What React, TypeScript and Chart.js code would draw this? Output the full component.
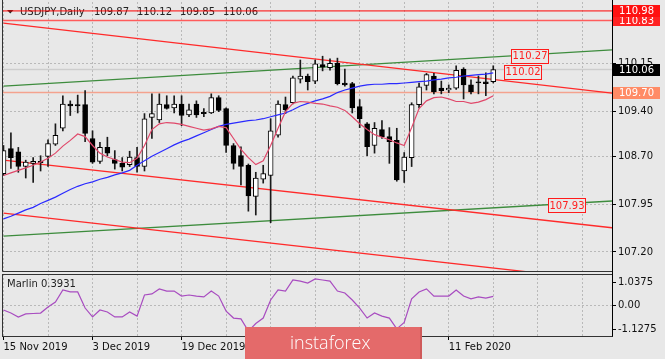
import React, { useEffect, useRef } from 'react';
import { Chart, registerables } from 'chart.js';

Chart.register(...registerables);

const BG = '#e8e8e8';
const FONT = '"DejaVu Sans", Verdana, sans-serif';
const GRID = '#b9b9b9';

// ---------- data ----------
const dates = [
  '15 Nov 2019', '18 Nov 2019', '19 Nov 2019', '20 Nov 2019', '21 Nov 2019', '22 Nov 2019', '25 Nov 2019', '26 Nov 2019', '27 Nov 2019', '28 Nov 2019', '29 Nov 2019',
  '2 Dec 2019', '3 Dec 2019', '4 Dec 2019', '5 Dec 2019', '6 Dec 2019', '9 Dec 2019', '10 Dec 2019', '11 Dec 2019', '12 Dec 2019', '13 Dec 2019', '16 Dec 2019', '17 Dec 2019', '18 Dec 2019', '19 Dec 2019', '20 Dec 2019', '23 Dec 2019', '24 Dec 2019', '26 Dec 2019', '27 Dec 2019', '30 Dec 2019', '31 Dec 2019',
  '2 Jan 2020', '3 Jan 2020', '6 Jan 2020', '7 Jan 2020', '8 Jan 2020', '9 Jan 2020', '10 Jan 2020', '13 Jan 2020', '14 Jan 2020', '15 Jan 2020', '16 Jan 2020', '17 Jan 2020', '20 Jan 2020', '21 Jan 2020', '22 Jan 2020', '23 Jan 2020', '24 Jan 2020', '27 Jan 2020', '28 Jan 2020', '29 Jan 2020', '30 Jan 2020', '31 Jan 2020',
  '3 Feb 2020', '4 Feb 2020', '5 Feb 2020', '6 Feb 2020', '7 Feb 2020', '10 Feb 2020', '11 Feb 2020', '12 Feb 2020', '13 Feb 2020', '14 Feb 2020', '17 Feb 2020', '18 Feb 2020', '19 Feb 2020',
];

const open = [
  108.43, 108.82, 108.77, 108.54, 108.59, 108.62, 108.70, 108.89, 109.14, 109.52, 109.51,
  109.51, 108.98, 108.62, 108.84, 108.65, 108.59, 108.57, 108.68, 108.54, 109.31, 109.27, 109.51, 109.46, 109.52, 109.35, 109.52, 109.39, 109.38, 109.62, 109.45, 108.87,
  108.71, 108.56, 108.07, 108.34, 108.40, 109.03, 109.51, 109.54, 109.91, 109.96, 109.88, 110.14, 110.09, 110.16, 109.85, 109.84, 109.48, 109.21, 108.87, 109.12, 109.01, 108.95,
  108.47, 108.68, 109.51, 109.81, 109.96, 109.77, 109.74, 109.77, 110.07, 109.82, 109.87, 109.87, 109.87,
];
const high = [
  108.87, 109.07, 108.84, 108.64, 108.68, 108.71, 108.96, 109.21, 109.65, 109.57, 109.66,
  109.73, 109.10, 108.92, 109.00, 108.79, 108.68, 108.78, 108.84, 109.37, 109.68, 109.68, 109.65, 109.65, 109.65, 109.52, 109.57, 109.45, 109.68, 109.65, 109.46, 108.90,
  108.85, 108.58, 108.45, 108.56, 109.29, 109.57, 109.63, 109.96, 110.21, 109.99, 110.21, 110.27, 110.23, 110.24, 110.07, 109.86, 109.59, 109.23, 109.23, 109.26, 109.15, 109.14,
  108.76, 109.54, 109.85, 110.00, 110.00, 109.88, 109.82, 110.12, 110.09, 109.90, 109.96, 110.01, 110.12,
];
const low = [
  108.40, 108.51, 108.45, 108.36, 108.29, 108.47, 108.54, 108.87, 109.10, 109.34, 109.38,
  108.93, 108.59, 108.59, 108.71, 108.50, 108.47, 108.54, 108.45, 108.47, 108.98, 109.23, 109.44, 109.38, 109.18, 109.32, 109.31, 109.32, 109.37, 109.40, 108.76, 108.50,
  108.25, 107.84, 107.78, 108.28, 107.66, 109.00, 109.37, 109.52, 109.85, 109.74, 109.84, 110.04, 110.05, 109.82, 109.80, 109.38, 109.15, 108.71, 108.75, 108.98, 108.59, 108.31,
  108.29, 108.54, 109.46, 109.74, 109.68, 109.68, 109.70, 109.75, 109.60, 109.68, 109.68, 109.65, 109.85,
];
const close = [
  108.79, 108.68, 108.54, 108.61, 108.62, 108.60, 108.90, 109.03, 109.52, 109.49, 109.49,
  109.06, 108.61, 108.84, 108.75, 108.59, 108.53, 108.69, 108.54, 109.29, 109.37, 109.52, 109.45, 109.52, 109.34, 109.43, 109.35, 109.37, 109.62, 109.42, 108.87, 108.59,
  108.54, 108.08, 108.36, 108.43, 109.10, 109.52, 109.43, 109.93, 109.96, 109.87, 110.15, 110.10, 110.16, 109.84, 109.82, 109.46, 109.29, 108.85, 109.14, 109.01, 108.93, 108.33,
  108.69, 109.51, 109.79, 109.98, 109.71, 109.73, 109.77, 110.05, 109.82, 109.71, 109.85, 109.84, 110.06,
];

// fast moving average (crimson)
const maFast = [
  108.40, 108.44, 108.48, 108.52, 108.56, 108.61, 108.67, 108.75, 108.86, 108.95, 109.05,
  109.01, 108.87, 108.75, 108.69, 108.65, 108.61, 108.60, 108.67, 108.87, 109.12, 109.21, 109.23, 109.22, 109.20, 109.17, 109.14, 109.11, 109.13, 109.17, 109.15, 108.98,
  108.81, 108.68, 108.57, 108.63, 108.87, 109.14, 109.40, 109.53, 109.56, 109.55, 109.53, 109.52, 109.49, 109.47, 109.42, 109.32, 109.21, 109.12, 109.04, 109.00, 108.96, 108.91,
  108.87, 109.15, 109.45, 109.57, 109.62, 109.63, 109.60, 109.56, 109.56, 109.53, 109.55, 109.59, 109.65,
];
// slow moving average (blue)
const maSlow = [
  107.72, 107.76, 107.81, 107.86, 107.90, 107.96, 108.01, 108.06, 108.12, 108.18, 108.23,
  108.27, 108.30, 108.34, 108.37, 108.41, 108.44, 108.48, 108.56, 108.63, 108.70, 108.76, 108.82, 108.88, 108.93, 108.97, 109.02, 109.07, 109.12, 109.17, 109.20, 109.22,
  109.24, 109.26, 109.27, 109.29, 109.32, 109.35, 109.38, 109.43, 109.49, 109.53, 109.57, 109.60, 109.64, 109.70, 109.74, 109.77, 109.80, 109.82, 109.83, 109.83, 109.84, 109.84,
  109.85, 109.86, 109.87, 109.88, 109.90, 109.91, 109.93, 109.94, 109.96, 109.97, 109.98, 109.99, 110.01,
];
// Marlin oscillator
const marlin = [
  -0.23, -0.37, -0.55, -0.41, -0.39, -0.37, -0.09, 0.14, 0.69, 0.60, 0.60,
  -0.14, -0.55, -0.23, -0.32, -0.55, -0.55, -0.32, -0.51, 0.46, 0.51, 0.74, 0.64, 0.64, 0.41, 0.46, 0.41, 0.37, 0.64, 0.41, -0.28, -0.60,
  -0.64, -1.20, -0.85, -0.60, 0.23, 0.69, 0.64, 1.15, 1.10, 1.01, 1.20, 1.15, 1.10, 0.64, 0.55, 0.23, -0.14, -0.60, -0.37, -0.51, -0.60, -1.10,
  -0.80, 0.28, 0.60, 0.74, 0.41, 0.41, 0.41, 0.69, 0.41, 0.28, 0.37, 0.32, 0.3931,
];

const priceTicks = [110.15, 109.40, 108.70, 107.95, 107.20];
const marlinTicks = [1.0375, 0, -1.1275];
const gridBars = [0, 6, 12, 18, 24, 30, 36, 42, 48, 54, 60, 66, 72, 78];

// horizontal levels
const levelValues = [110.83, 110.98, 109.70];
const levelLineColors = ['#ff5c5c', '#ff0000', '#f4a28e'];
const levelBoxColors = ['#ff2222', '#ff1111', '#ff8b66'];
const bidPrice = 110.06;

// trend lines: [startBar, startPrice, endBar, endPrice]
const trendStart = [0, 0, 0, 0, 0];
const trendStartPrice = [110.79, 109.80, 108.64, 107.81, 107.45];
const trendEnd = [82, 82, 82, 82, 82];
const trendEndPrice = [109.69, 110.37, 107.58, 106.74, 108.00];
const trendColors = ['#ff2a2a', '#3d8c3d', '#ff2a2a', '#ff2a2a', '#3d8c3d'];

// in-chart price labels
const noteTexts = ['110.27', '110.02', '107.93'];
const noteBars = [68.4, 67.4, 73.4];

// ---------- layout constants ----------
const X_MIN = -0.2;
const X_MAX = 82;
const Y_MIN = 106.902;
const Y_MAX = 111.12;
const M_MIN = -1.425;
const M_MAX = 1.425;

const seg = (x0: number, y0: number, x1: number, y1: number, color: string, width: number, order: number) => ({
  type: 'line' as const,
  data: [{ x: x0, y: y0 }, { x: x1, y: y1 }],
  borderColor: color,
  borderWidth: width,
  pointRadius: 0,
  tension: 0,
  order,
});

const mainDecor = {
  id: 'mainDecor',
  beforeDatasetsDraw(chart: any) {
    const ctx = chart.ctx;
    ctx.save();
    ctx.fillStyle = '#222';
    ctx.beginPath();
    ctx.moveTo(7, 10);
    ctx.lineTo(13.5, 10);
    ctx.lineTo(10.25, 13.5);
    ctx.closePath();
    ctx.fill();
    ctx.font = `10px ${FONT}`;
    ctx.textBaseline = 'alphabetic';
    ctx.textAlign = 'left';
    ctx.fillText('USDJPY,Daily', 20, 15);
    const last = dates.length - 1;
    const ohlc = [open[last], high[last], low[last], close[last]];
    ohlc.forEach((v, k) => ctx.fillText(v.toFixed(2), 94 + k * 43, 15));
    ctx.restore();
  },
  afterDraw(chart: any) {
    const ctx = chart.ctx;
    const { left, right, bottom } = chart.chartArea;
    const ys = chart.scales.y;
    const xs = chart.scales.x;
    ctx.save();
    // frame
    ctx.strokeStyle = '#333';
    ctx.lineWidth = 1;
    ctx.beginPath();
    ctx.moveTo(left + 0.5, 0);
    ctx.lineTo(left + 0.5, bottom + 0.5);
    ctx.lineTo(right, bottom + 0.5);
    ctx.stroke();
    ctx.strokeStyle = '#000';
    ctx.beginPath();
    ctx.moveTo(right + 0.5, 0);
    ctx.lineTo(right + 0.5, chart.height);
    ctx.stroke();

    ctx.font = `10px ${FONT}`;
    ctx.textBaseline = 'middle';
    ctx.textAlign = 'left';
    const box = (v: number, fill: string) => {
      const yc = ys.getPixelForValue(v);
      ctx.fillStyle = fill;
      ctx.fillRect(right + 1, Math.round(yc - 6), 47, 12);
      ctx.fillStyle = '#fff';
      ctx.fillText(v.toFixed(2), right + 7, yc + 0.5);
    };
    levelValues.forEach((v, k) => box(v, levelBoxColors[k]));
    box(bidPrice, '#000');

    // in-chart labels
    ctx.textAlign = 'center';
    noteTexts.forEach((t, k) => {
      const v = parseFloat(t);
      const x0 = Math.round(xs.getPixelForValue(noteBars[k])) + 0.5;
      const yc = ys.getPixelForValue(v);
      const y0 = Math.round(yc - 7) + 0.5;
      ctx.fillStyle = BG;
      ctx.fillRect(x0, y0, 37, 14);
      ctx.strokeStyle = '#ff1a1a';
      ctx.strokeRect(x0, y0, 37, 14);
      ctx.fillStyle = '#ff2020';
      ctx.fillText(t, x0 + 18.5, yc + 0.5);
    });
    ctx.restore();
  },
};

const subDecor = {
  id: 'subDecor',
  afterDraw(chart: any) {
    const ctx = chart.ctx;
    const { left, right, top, bottom } = chart.chartArea;
    ctx.save();
    ctx.strokeStyle = '#333';
    ctx.lineWidth = 1;
    ctx.strokeRect(left + 0.5, top + 0.5, right - left, bottom - top);
    ctx.strokeStyle = '#000';
    ctx.beginPath();
    ctx.moveTo(right + 0.5, 0);
    ctx.lineTo(right + 0.5, bottom + 0.5);
    ctx.stroke();

    ctx.font = `10px ${FONT}`;
    ctx.fillStyle = '#222';
    ctx.textBaseline = 'middle';
    ctx.textAlign = 'left';
    ctx.fillText('Marlin ' + marlin[marlin.length - 1].toFixed(4), 7, 12.5);

    // logo
    ctx.fillStyle = '#e46a6a';
    ctx.fillRect(245, 55, 177, 32);
    ctx.fillStyle = '#cf5a5a';
    ctx.fillRect(420, 55, 2, 32);
    ctx.fillStyle = '#ffffff';
    ctx.font = `300 18px "Open Sans", "DejaVu Sans", sans-serif`;
    ctx.textBaseline = 'alphabetic';
    ctx.fillText('instaforex', 290, 77);
    ctx.restore();
  },
};

function App() {
  const mainRef = useRef<HTMLCanvasElement>(null);
  const subRef = useRef<HTMLCanvasElement>(null);

  useEffect(() => {
    const bodyColors = dates.map((_, i) => (close[i] > open[i] ? '#ffffff' : '#000000'));
    const gridAfterBuild = (s: any) => {
      s.ticks = gridBars.map((v) => ({ value: v }));
    };

    const main = new Chart(mainRef.current as HTMLCanvasElement, {
      type: 'bar',
      data: {
        datasets: [
          ...levelValues.map((v, k) => seg(X_MIN, v, X_MAX, v, levelLineColors[k], k === 1 ? 1 : 1.5, 30)),
          seg(X_MIN, bidPrice, X_MAX, bidPrice, '#cdcdcd', 1.5, 31),
          ...trendStart.map((s, k) => seg(s, trendStartPrice[k], trendEnd[k], trendEndPrice[k], trendColors[k], 1.3, 20)),
          {
            type: 'bar' as const,
            data: dates.map((_, i) => ({ x: i, y: [low[i], high[i]] })),
            backgroundColor: '#1a1a1a',
            borderWidth: 0,
            barThickness: 1,
            grouped: false,
            order: 12,
          },
          {
            type: 'bar' as const,
            data: dates.map((_, i) => ({ x: i, y: [open[i], close[i]] })),
            backgroundColor: bodyColors,
            borderColor: '#000',
            borderWidth: 1,
            borderSkipped: false,
            barThickness: 5,
            grouped: false,
            order: 11,
          },
          {
            type: 'line' as const,
            data: maSlow.map((v, i) => ({ x: i, y: v })),
            borderColor: '#2a2aff',
            borderWidth: 1.2,
            pointRadius: 0,
            tension: 0,
            order: 5,
          },
          {
            type: 'line' as const,
            data: maFast.map((v, i) => ({ x: i, y: v })),
            borderColor: '#e0486a',
            borderWidth: 1.2,
            pointRadius: 0,
            tension: 0,
            order: 4,
          },
        ] as any,
      },
      options: {
        responsive: false,
        animation: false,
        devicePixelRatio: 1,
        events: [],
        layout: { autoPadding: false, padding: { left: 2, top: 2, right: 0, bottom: 1 } } as any,
        plugins: { legend: { display: false }, tooltip: { enabled: false } },
        scales: {
          x: {
            type: 'linear',
            min: X_MIN,
            max: X_MAX,
            offset: false,
            afterBuildTicks: gridAfterBuild,
            afterFit: (s: any) => {
              s.height = 0;
              s.paddingLeft = 0;
              s.paddingRight = 0;
            },
            grid: { color: GRID, offset: false, drawTicks: false, lineWidth: 1 },
            border: { display: false, dash: [2, 2] },
            ticks: { display: false },
          },
          y: {
            position: 'right',
            min: Y_MIN,
            max: Y_MAX,
            beginAtZero: false,
            afterBuildTicks: (s: any) => {
              s.ticks = priceTicks.map((v) => ({ value: v }));
            },
            afterFit: (s: any) => {
              s.width = 53;
              s.paddingTop = 0;
              s.paddingBottom = 0;
            },
            grid: { color: GRID, drawTicks: true, tickLength: 4, tickColor: '#000', tickBorderDash: [], tickWidth: 1 },
            border: { display: false, dash: [2, 2] },
            ticks: {
              font: { family: FONT, size: 10 },
              color: '#111',
              padding: 2,
              autoSkip: false,
              callback: (v: any) => Number(v).toFixed(2),
            },
          },
        } as any,
      },
      plugins: [mainDecor],
    });

    const sub = new Chart(subRef.current as HTMLCanvasElement, {
      type: 'line',
      data: {
        datasets: [
          {
            data: marlin.map((v, i) => ({ x: i, y: v })),
            borderColor: '#a84cc0',
            borderWidth: 1.2,
            pointRadius: 0,
            tension: 0,
          },
        ],
      },
      options: {
        responsive: false,
        animation: false,
        devicePixelRatio: 1,
        events: [],
        layout: { autoPadding: false, padding: { left: 2, top: 2, right: 0, bottom: 0 } } as any,
        plugins: { legend: { display: false }, tooltip: { enabled: false } },
        scales: {
          x: {
            type: 'linear',
            min: X_MIN,
            max: X_MAX,
            offset: false,
            afterBuildTicks: gridAfterBuild,
            afterFit: (s: any) => {
              s.height = 23;
              s.paddingLeft = 0;
              s.paddingRight = 0;
            },
            grid: {
              color: GRID,
              offset: false,
              drawTicks: true,
              tickLength: 4,
              tickBorderDash: [],
              tickColor: (c: any) => (c.tick && c.tick.value % 12 === 0 && dates[c.tick.value] ? '#000' : 'rgba(0,0,0,0)'),
            },
            border: { display: false, dash: [2, 2] },
            ticks: {
              font: { family: FONT, size: 10 },
              color: '#111',
              align: 'start',
              padding: 1,
              autoSkip: false,
              maxRotation: 0,
              minRotation: 0,
              callback: (v: any) => (v % 12 === 0 && dates[v] ? dates[v] : ''),
            },
          },
          y: {
            position: 'right',
            min: M_MIN,
            max: M_MAX,
            beginAtZero: false,
            afterBuildTicks: (s: any) => {
              s.ticks = marlinTicks.map((v) => ({ value: v }));
            },
            afterFit: (s: any) => {
              s.width = 53;
              s.paddingTop = 0;
              s.paddingBottom = 0;
            },
            grid: {
              color: (c: any) => (c.tick && c.tick.value === 0 ? GRID : 'rgba(0,0,0,0)'),
              drawTicks: true,
              tickLength: 4,
              tickColor: '#000',
              tickBorderDash: [],
            },
            border: { display: false, dash: [2, 2] },
            ticks: {
              font: { family: FONT, size: 10 },
              color: '#111',
              padding: 2,
              autoSkip: false,
              callback: (v: any) => (Number(v) === 0 ? '0.00' : String(v)),
            },
          },
        } as any,
      },
      plugins: [subDecor],
    });

    return () => {
      main.destroy();
      sub.destroy();
    };
  }, []);

  return (
    <div style={{ position: 'absolute', left: 0, top: 0, width: 665, height: 359, background: BG, overflow: 'hidden' }}>
      <canvas ref={mainRef} width={665} height={272} style={{ position: 'absolute', left: 0, top: 0, width: 665, height: 272 }} />
      <canvas ref={subRef} width={665} height={87} style={{ position: 'absolute', left: 0, top: 272, width: 665, height: 87 }} />
    </div>
  );
}

export default App;
